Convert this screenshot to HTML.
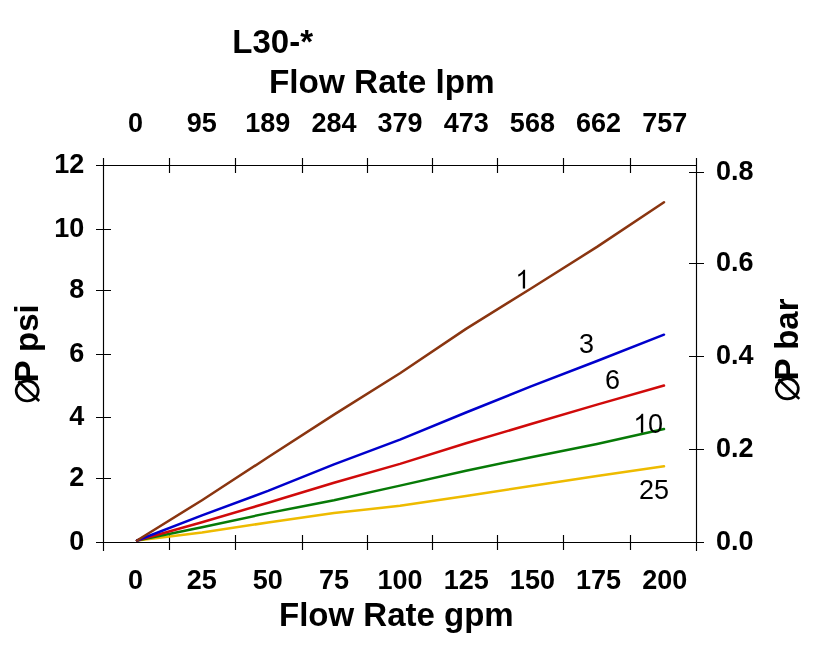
<!DOCTYPE html><html><head><meta charset="utf-8"><style>html,body{margin:0;padding:0;background:#fff;width:834px;height:658px;overflow:hidden}svg{display:block;will-change:transform}text{font-family:"Liberation Sans",sans-serif}.b{font-weight:bold}</style></head><body>
<svg width="834" height="658" viewBox="0 0 834 658">
<rect width="834" height="658" fill="#fff"/>
<path d="M103.5,158 V551 M696.5,158 V551 M96,165.5 H696.5 M96,542.5 H704 M169.5,158 V173 M169.5,535 V550 M235.5,158 V173 M235.5,535 V550 M302.5,158 V173 M302.5,535 V550 M367.5,158 V173 M367.5,535 V550 M432.5,158 V173 M432.5,535 V550 M497.5,158 V173 M497.5,535 V550 M563.5,158 V173 M563.5,535 V550 M630.5,158 V173 M630.5,535 V550 M96,229.5 H111 M96,290.5 H111 M96,354.5 H111 M96,417.5 H111 M96,478.5 H111 M689,172.5 H704 M689,263.5 H704 M689,356.5 H704 M689,449.5 H704" stroke="#000" stroke-width="1.15" fill="none"/>
<polyline points="137,540.5 202,532.5 268,522.5 334,513.1 400,505.8 466,495.9 531,486 597,476 664,466.3" stroke="#eebb00" stroke-width="2.5" fill="none" stroke-linejoin="round" stroke-linecap="round"/>
<polyline points="137,540.5 202,527.2 268,513.1 334,500.3 400,485.6 466,470.7 531,457.2 597,443.9 664,429" stroke="#077a07" stroke-width="2.5" fill="none" stroke-linejoin="round" stroke-linecap="round"/>
<polyline points="137,540.5 202,522.2 268,502.8 334,482.8 400,463.9 466,443.3 531,424 597,404.6 664,385.5" stroke="#d00a0a" stroke-width="2.5" fill="none" stroke-linejoin="round" stroke-linecap="round"/>
<polyline points="137,540.5 202,515.4 268,490.9 334,464.4 400,439.7 466,412.5 531,386.4 597,361 664,334.7" stroke="#0000cc" stroke-width="2.5" fill="none" stroke-linejoin="round" stroke-linecap="round"/>
<polyline points="137,540.5 202,500.2 268,457.3 334,414.6 400,373.2 466,328.9 531,288.5 597,246.9 664,202.2" stroke="#8a3510" stroke-width="2.5" fill="none" stroke-linejoin="round" stroke-linecap="round"/>
<g class="b" font-size="33">
<text x="232.3" y="52.7">L30-*</text>
<text x="269" y="93" font-size="33.3">Flow Rate lpm</text>
<text x="279" y="625.7">Flow Rate gpm</text>
</g>
<g class="b" font-size="27" text-anchor="middle">
<text x="135.5" y="132">0</text>
<text x="201.7" y="132">95</text>
<text x="267.8" y="132">189</text>
<text x="334.0" y="132">284</text>
<text x="400.1" y="132">379</text>
<text x="466.2" y="132">473</text>
<text x="532.4" y="132">568</text>
<text x="598.6" y="132">662</text>
<text x="664.7" y="132">757</text>
<text x="135.5" y="589">0</text>
<text x="201.7" y="589">25</text>
<text x="267.8" y="589">50</text>
<text x="334.0" y="589">75</text>
<text x="400.1" y="589">100</text>
<text x="466.2" y="589">125</text>
<text x="532.4" y="589">150</text>
<text x="598.6" y="589">175</text>
<text x="664.7" y="589">200</text>
</g>
<g class="b" font-size="27" text-anchor="end">
<text x="84.3" y="173.2">12</text>
<text x="84.3" y="237.2">10</text>
<text x="84.3" y="298.2">8</text>
<text x="84.3" y="362.2">6</text>
<text x="84.3" y="425.2">4</text>
<text x="84.3" y="486.2">2</text>
<text x="84.3" y="550.2">0</text>
</g>
<g class="b" font-size="27">
<text x="716" y="180.0">0.8</text>
<text x="716" y="271.0">0.6</text>
<text x="716" y="364.0">0.4</text>
<text x="716" y="457.0">0.2</text>
<text x="716" y="550.0">0.0</text>
</g>
<g font-size="27">
<text x="579" y="353.4">3</text>
<text x="605" y="388.7">6</text>
<text x="648" y="432.7">0</text>
<text x="639" y="498.6">25</text>
</g>
<text class="b" font-size="33" transform="translate(37.9,382.5) rotate(-90)">P psi</text>
<text class="b" font-size="33" transform="translate(797.8,380.4) rotate(-90)">P bar</text>
<ellipse cx="27.20" cy="390.90" rx="11" ry="10.1" stroke="#000" stroke-width="2.7" fill="none"/><line x1="18.30" y1="381.40" x2="39.20" y2="401.00" stroke="#000" stroke-width="2.6"/>
<ellipse cx="787.30" cy="388.80" rx="11" ry="10.1" stroke="#000" stroke-width="2.7" fill="none"/><line x1="778.40" y1="379.30" x2="799.30" y2="398.90" stroke="#000" stroke-width="2.6"/>
<path d="M525.10,288.40 H522.81 V273.84 Q521.99,274.63 520.64,275.41 Q519.30,276.20 518.23,276.59 V274.38 Q520.15,273.48 521.58,272.20 Q523.02,270.92 523.61,269.71 H525.10 Z" fill="#000"/>
<path d="M643.20,432.70 H640.89 V417.97 Q640.05,418.77 638.69,419.56 Q637.33,420.36 636.25,420.76 V418.52 Q638.19,417.61 639.64,416.31 Q641.09,415.02 641.70,413.80 H643.20 Z" fill="#000"/>
</svg></body></html>
